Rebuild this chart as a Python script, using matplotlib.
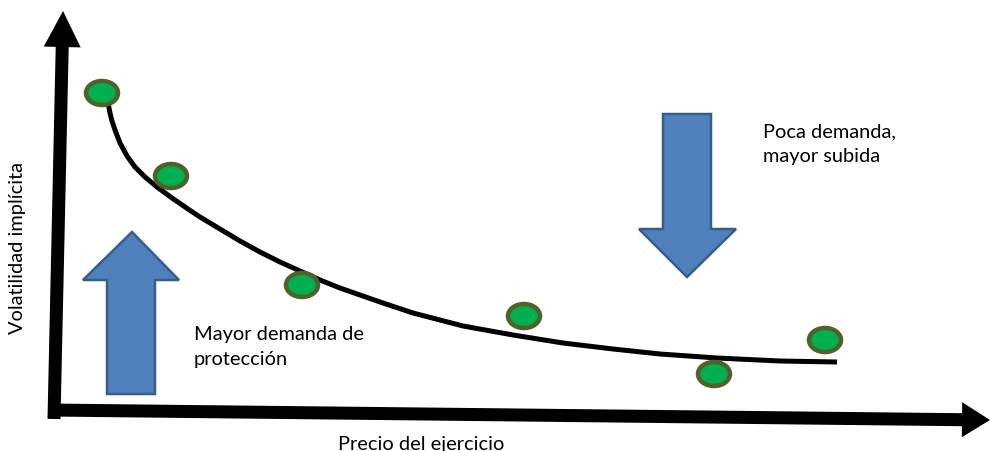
import numpy as np
import matplotlib.pyplot as plt
from matplotlib.patches import Ellipse, FancyArrow, Polygon

plt.rcParams['font.family'] = ['Lato', 'DejaVu Sans']

# observed smile points (pixel-like units, y grows downward)
strike = [102, 171, 302, 524, 714, 825]
vol = [94, 177, 286, 317, 375, 341]

# fitted curve
curve_x = [108, 110, 112, 115, 120, 127, 135, 145, 157, 172, 188, 200, 220, 240,
           260, 280, 300, 320, 340, 360, 380, 413, 463, 513, 563, 613, 660, 717,
           780, 837]
curve_y = [104, 114, 122, 131, 144, 157, 168, 178, 188, 199, 210, 218, 230, 242,
           253, 263, 272, 281, 289, 296, 303, 314, 327, 336, 344, 350, 355, 359,
           362, 363]

W, H = 990, 452
fig = plt.figure(figsize=(W / 100, H / 100), dpi=100)
ax = fig.add_axes([0, 0, 1, 1])
ax.set_xlim(0, W)
ax.set_ylim(H, 0)
ax.axis('off')

px = 72 / 100  # one pixel in points

# axes arrows
ax.add_patch(FancyArrow(54, 420, 9, -408, width=13, head_width=37, head_length=36,
                        length_includes_head=True, color='black', lw=0))
ax.add_patch(FancyArrow(48, 411, 942, 10, width=13, head_width=35, head_length=28,
                        length_includes_head=True, color='black', lw=0))

# block arrows
fill, edge = '#4F81BD', '#385D8A'
up = [(107, 395), (107, 281), (83, 281), (132, 233), (179, 281), (155, 281), (155, 395)]
down = [(663, 115), (663, 230), (639, 230), (687, 278), (736, 230), (711, 230), (711, 115)]
for pts in (up, down):
    ax.add_patch(Polygon(pts, closed=True, facecolor=fill, edgecolor=edge,
                         lw=2.5 * px, joinstyle='miter'))

# curve
ax.plot(curve_x, curve_y, color='black', lw=5 * px, solid_capstyle='butt',
        solid_joinstyle='round', zorder=3)

# points
for x, y in zip(strike, vol):
    ax.add_patch(Ellipse((x, y), 32, 24, facecolor='#00B050', edgecolor='#4F6228',
                         lw=4.5 * px, zorder=4))

# texts
fs = 14.4
ax.text(763, 137, 'Poca demanda,', fontsize=fs, va='baseline', ha='left')
ax.text(763, 162, 'mayor subida', fontsize=fs, va='baseline', ha='left')
ax.text(194, 340, 'Mayor demanda de', fontsize=fs, va='baseline', ha='left')
ax.text(194, 365, 'protección', fontsize=fs, va='baseline', ha='left')

ax.text(18, 248, 'Volatilidad implícita', fontsize=fs, rotation=90,
        va='center', ha='center')
ax.text(421, 450, 'Precio del ejercicio', fontsize=fs, va='baseline', ha='center')

fig.savefig('out.png', dpi=100)
